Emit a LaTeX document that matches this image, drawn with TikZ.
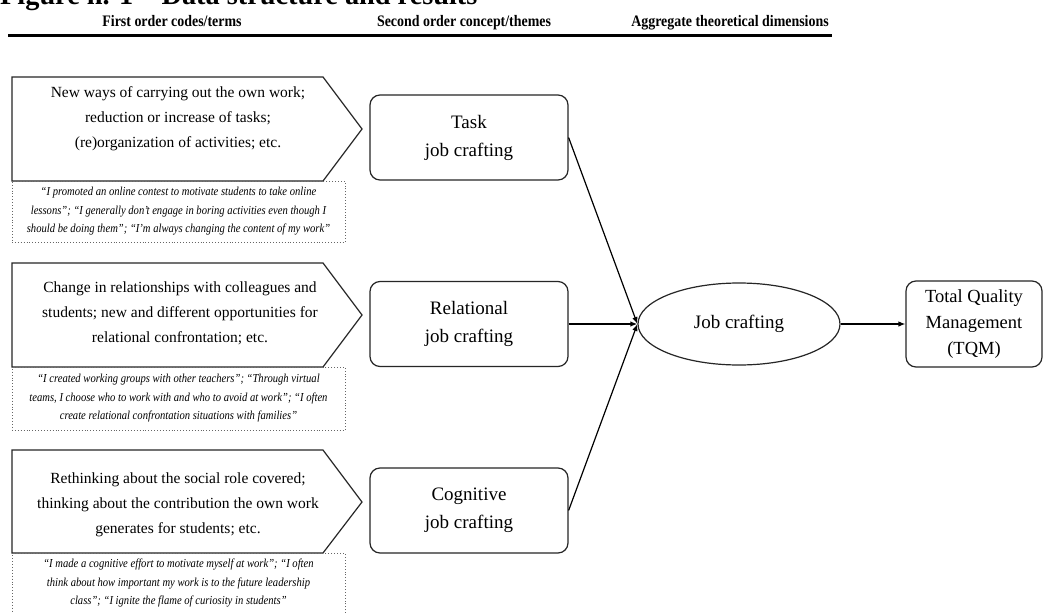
\documentclass[tikz,border=0pt]{standalone}
\usepackage{fontspec}
\setmainfont{Liberation Serif}
\newfontfamily\condfont[FakeStretch=0.87]{Liberation Serif}
\usetikzlibrary{arrows.meta,shapes.geometric}
\begin{document}
\begin{tikzpicture}[x=1pt,y=-1pt,
  outline/.style={draw=black!85, line width=1.2pt},
  codetext/.style={align=center, inner sep=0pt, font=\fontsize{15.5}{25}\selectfont},
  quotebox/.style={draw=black!60, dotted, line width=0.9pt, align=center, inner sep=0pt,
    minimum width=333pt, font=\condfont\itshape\fontsize{12.2}{18.5}\selectfont},
  theme/.style={draw=black!85, line width=1.2pt, rounded corners=10pt, align=center,
    minimum width=198pt, minimum height=85pt, inner sep=0pt, font=\fontsize{19}{28}\selectfont},
  header/.style={font=\condfont\bfseries\fontsize{16}{18}\selectfont, inner sep=0pt},
  arr/.style={draw=black, line width=1.2pt, -{Latex[length=7pt,width=5.5pt]}}
]
\useasboundingbox (0,0) rectangle (1044,613);
\fill[white] (0,0) rectangle (1044,613);

% title (cut by the top edge, as in the reference)
\node[anchor=base west, inner sep=0pt, font=\bfseries\fontsize{28.3}{30}\selectfont] (title) at (0,5) {Figure n. 1 -- Data structure and results};

% headers
\node[header, anchor=base] (h1) at (172,27) {First order codes/terms};
\node[header, anchor=base] (h2) at (464,27) {Second order concept/themes};
\node[header, anchor=base] (h3) at (730,27) {Aggregate theoretical dimensions};
\draw[line width=2.4pt] (8,35.5) -- (832,35.5);

% first order pentagons
\draw[outline] (12,77) -- (323,77) -- (362,129) -- (323,181) -- (12,181) -- cycle;
\node[codetext] (p1) at (178,119) {New ways of carrying out the own work;\\reduction or increase of tasks;\\(re)organization of activities; etc.};
\node[quotebox, minimum height=61pt] (q1) at (178.5,211.5) {“I promoted an online contest to motivate students to take online\\lessons”; “I generally don’t engage in boring activities even though I\\should be doing them”; “I’m always changing the content of my work”};

\draw[outline] (12,263) -- (323,263) -- (362,315) -- (323,367) -- (12,367) -- cycle;
\node[codetext] (p2) at (180,313) {Change in relationships with colleagues and\\students; new and different opportunities for\\relational confrontation; etc.};
\node[quotebox, minimum height=63pt] (q2) at (178.5,398.5) {“I created working groups with other teachers”; “Through virtual\\teams, I choose who to work with and who to avoid at work”; “I often\\create relational confrontation situations with families”};

\draw[outline] (12,450) -- (323,450) -- (362,502) -- (323,553) -- (12,553) -- cycle;
\node[codetext] (p3) at (178,505) {Rethinking about the social role covered;\\thinking about the contribution the own work\\generates for students; etc.};
\node[quotebox, minimum height=60pt] (q3) at (178.5,583.5) {“I made a cognitive effort to motivate myself at work”; “I often\\think about how important my work is to the future leadership\\class”; “I ignite the flame of curiosity in students”};

% second order themes
\node[theme] (t1) at (469,137.5) {Task\\job crafting};
\node[theme] (t2) at (469,324) {Relational\\job crafting};
\node[theme] (t3) at (469,510.5) {Cognitive\\job crafting};

% aggregate
\node[draw=black!85, line width=1.2pt, ellipse, minimum width=202pt, minimum height=82pt, inner sep=0pt,
  font=\fontsize{19}{22}\selectfont] (jc) at (739,324) {Job crafting};
\node[theme, minimum width=136pt, minimum height=86pt, font=\fontsize{18.5}{26}\selectfont] (tqm) at (974,324) {Total Quality\\Management\\(TQM)};

% connectors
\draw[arr] (t1.east) -- (jc.west);
\draw[arr, line width=1.8pt] (t2.east) -- (jc.west);
\draw[arr] (t3.east) -- (jc.west);
\draw[arr] (jc.east) -- (tqm.west);
\end{tikzpicture}
\end{document}
